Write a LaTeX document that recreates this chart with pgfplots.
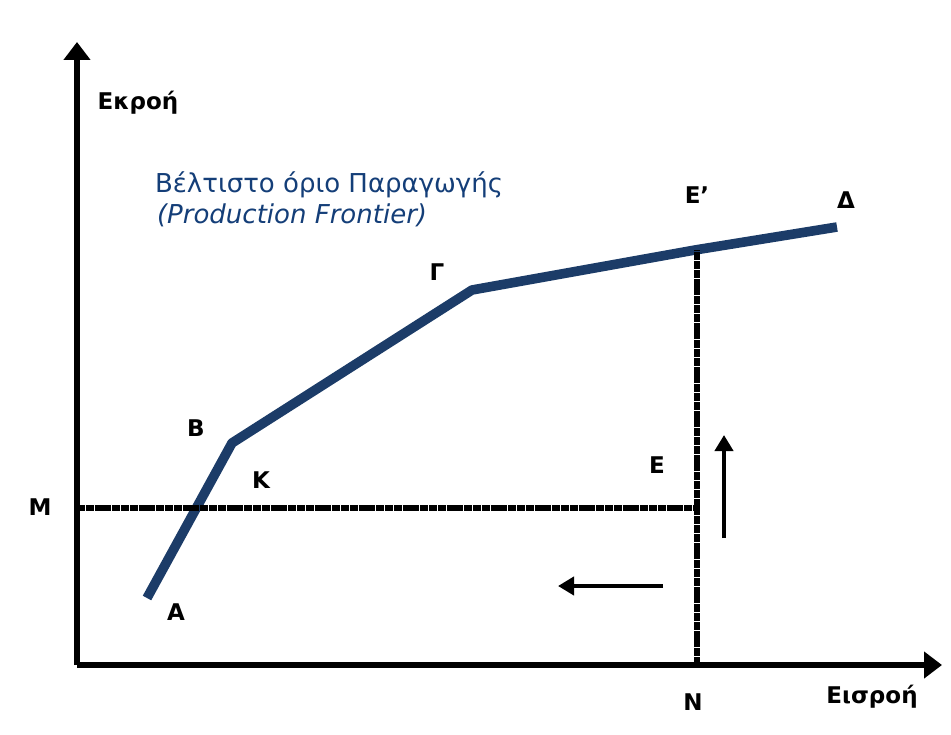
\documentclass[border=0pt]{standalone}
\usepackage{pgfplots}
\pgfplotsset{compat=1.18}
\usepackage{fontspec}
\setmainfont{DejaVu Sans}
\usetikzlibrary{arrows.meta}
\definecolor{frontier}{RGB}{28,60,104}
\definecolor{titleblue}{RGB}{20,62,120}

\begin{document}
\begin{tikzpicture}
\begin{axis}[
    scale only axis,
    width=432.5pt, height=311.5pt,
    xmin=77, xmax=942, ymin=69, ymax=692,
    axis lines=left,
    axis line style={line width=3pt, -{Triangle[width=13pt,length=9pt]}},
    xtick=\empty, ytick=\empty,
    clip=false,
    font=\fontsize{11.5}{13}\selectfont\bfseries
]
% invisible frame: whole picture area
\path (axis cs:0,0) rectangle (axis cs:951,734);

% production frontier A-B-Gamma-E'-Delta
\addplot[frontier, line width=4.8pt, line join=round] coordinates {
    (147,136) (232,291) (472,444) (695,484) (837,507)
};
% horizontal line M-E
\addplot[black, line width=3pt, dash pattern=on 4pt off 0.4pt] coordinates {
    (77,226) (697,226)
};
% vertical line N-E'
\addplot[black, line width=3pt, dash pattern=on 4pt off 0.4pt] coordinates {
    (697,69) (697,484)
};
% arrows
\addplot[black, line width=2.4pt, -{Triangle[width=9pt,length=8pt]}] coordinates {
    (724,196) (724,299)
};
\addplot[black, line width=2.4pt, -{Triangle[width=9pt,length=8pt]}] coordinates {
    (663,148) (558,148)
};

% labels
\node at (axis cs:138,631) {Εκροή};
\node at (axis cs:872,37) {Εισροή};
\node[anchor=west, text=titleblue, font=\fontsize{13}{15}\selectfont\mdseries] at (axis cs:148,549) {Βέλτιστο όριο Παραγωγής};
\node[anchor=west, text=titleblue, font=\fontsize{13}{15}\selectfont\mdseries\itshape] at (axis cs:150,519) {(Production Frontier)};
\node at (axis cs:437,462) {Γ};
\node at (axis cs:697,539) {Ε'};
\node at (axis cs:846,534) {Δ};
\node at (axis cs:196,306) {Β};
\node at (axis cs:261,254) {Κ};
\node at (axis cs:176,122) {Α};
\node at (axis cs:40,227) {Μ};
\node at (axis cs:657,269) {Ε};
\node at (axis cs:693,32) {Ν};
\end{axis}
\end{tikzpicture}
\end{document}
